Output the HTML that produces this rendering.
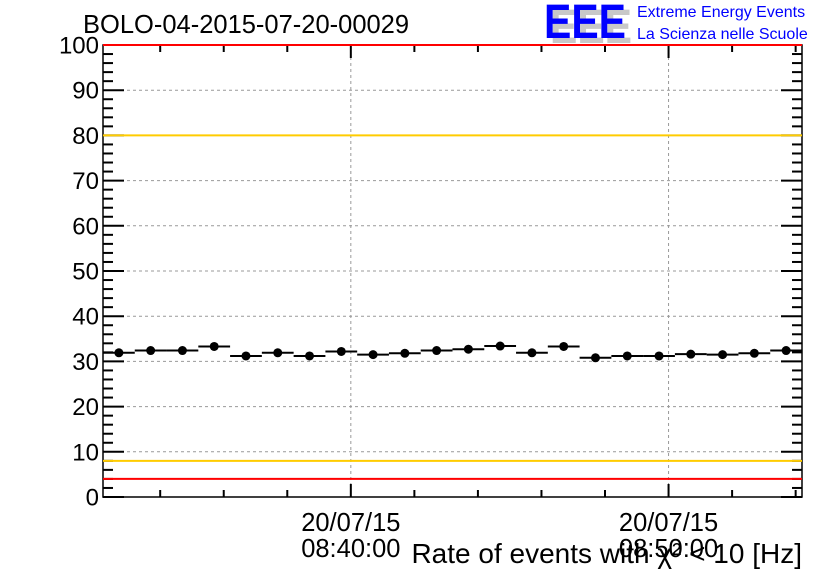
<!DOCTYPE html>
<html><head><meta charset="utf-8"><style>
body{margin:0;background:#fff;}
svg text{font-family:"Liberation Sans",sans-serif;}
</style></head><body>
<svg id="c" width="836" height="572" viewBox="0 0 836 572" xmlns="http://www.w3.org/2000/svg">
<rect width="836" height="572" fill="#fff"/>
<text x="83" y="33" font-size="25.5" fill="#000">BOLO-04-2015-07-20-00029</text>
<g>
<text x="550" y="43" font-size="48" font-weight="bold" fill="#c8c8c8" textLength="82" lengthAdjust="spacingAndGlyphs">EEE</text>
<text x="544" y="38" font-size="48" font-weight="bold" fill="#0000ff" textLength="82" lengthAdjust="spacingAndGlyphs">EEE</text>
<text x="637" y="17" font-size="16" fill="#0000ff">Extreme Energy Events</text>
<text x="637" y="39" font-size="16" fill="#0000ff">La Scienza nelle Scuole</text>
</g>
<g id="grid"></g><g id="marks"></g><g id="axes"></g><g id="lines"></g>
<text x="802" y="563" font-size="28" text-anchor="end" fill="#000">Rate of events with χ² &lt; 10 [Hz]</text>
</svg>
<script>
const values=[31.9,32.4,32.4,33.3,31.2,31.9,31.2,32.2,31.5,31.8,32.4,32.7,33.4,31.9,33.3,30.8,31.2,31.2,31.6,31.5,31.8,32.4];
const binSeconds=60;
const startTime=8*3600+32*60+12;
const yTicks=[0,10,20,30,40,50,60,70,80,90,100];
const majorTimes=["08:40:00","08:50:00"];
const dateLabel="20/07/15";
const redLimits=[4,100];
const orangeLimits=[8,80];

const L=103,R=802,T=45,B=497;
const NS="http://www.w3.org/2000/svg";
function y(v){return B-(v/100)*(B-T);}
const totalSec=values.length*binSeconds;
function xt(s){return L+(s-startTime)/totalSec*(R-L);}
function xi(i){return xt(startTime+i*binSeconds);}
function mk(p,tag,a){const e=document.createElementNS(NS,tag);for(const k in a)e.setAttribute(k,a[k]);document.getElementById(p).appendChild(e);return e;}
function ts(str){const p=str.split(':').map(Number);return p[0]*3600+p[1]*60+p[2];}
yTicks.forEach(v=>{if(v===0||v===100)return;const e=mk('grid','line',{x1:L,x2:R,y1:y(v),y2:y(v),stroke:'#999','stroke-dasharray':'3,3','stroke-width':1});

});
majorTimes.forEach(t=>{const x=xt(ts(t));const e=mk('grid','line',{x1:x,x2:x,y1:T,y2:B,stroke:'#999','stroke-dasharray':'3,3','stroke-width':1});

});
redLimits.forEach(v=>{const e=mk('lines','line',{x1:L,x2:R,y1:y(v),y2:y(v),stroke:'#ff0000','stroke-width':2});

});
orangeLimits.forEach(v=>{const e=mk('lines','line',{x1:L,x2:R,y1:y(v),y2:y(v),stroke:'#ffcc00','stroke-width':2});

});
values.forEach((v,i)=>{const x0=xi(i),x1=xi(i+1),yy=y(v);
const h=mk('marks','line',{x1:x0,x2:x1,y1:yy,y2:yy,stroke:'#000','stroke-width':2});


const c=mk('marks','circle',{cx:(x0+x1)/2,cy:yy,r:4.5,fill:'#000'});

});
const f=mk('axes','rect',{x:L,y:T,width:R-L,height:B-T,fill:'none',stroke:'#000','stroke-width':1.5});


for(let v=0;v<=100;v+=2){const maj=v%10===0;const len=maj?21:10;
mk('axes','line',{x1:L,x2:L+len,y1:y(v),y2:y(v),stroke:'#000','stroke-width':2});
mk('axes','line',{x1:R,x2:R-len,y1:y(v),y2:y(v),stroke:'#000','stroke-width':2});}
yTicks.forEach(v=>{const t=mk('axes','text',{x:99,y:y(v)+8.5,'font-size':24,'text-anchor':'end',fill:'#000'});t.textContent=v;

});
const first=Math.ceil(startTime/120)*120;
for(let s=first;s<=startTime+totalSec;s+=120){const x=xt(s);const maj=(s%600)===0;const len=maj?13:7;
mk('axes','line',{x1:x,x2:x,y1:B,y2:B-len,stroke:'#000','stroke-width':2});
mk('axes','line',{x1:x,x2:x,y1:T,y2:T+len,stroke:'#000','stroke-width':2});}
majorTimes.forEach(t=>{const x=xt(ts(t));
const a=mk('axes','text',{x:x,y:531,'font-size':25.5,'text-anchor':'middle',fill:'#000'});a.textContent=dateLabel;


const b=mk('axes','text',{x:x,y:557,'font-size':25.5,'text-anchor':'middle',fill:'#000'});b.textContent=t;

});
</script>
</body></html>
